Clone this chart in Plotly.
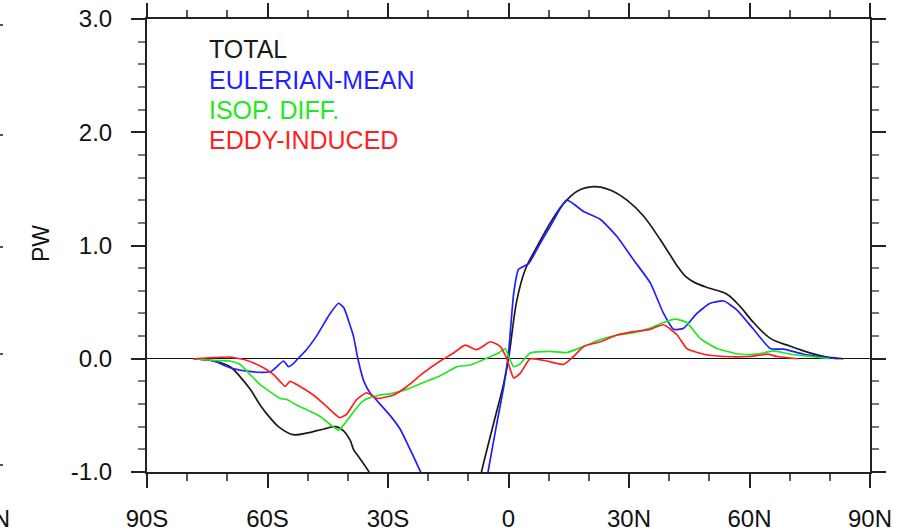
import plotly.graph_objects as go

# Northward heat transport components (PW) versus latitude (deg, negative = south)
total_lat = [-78.4, -73.4, -69.3, -66.8, -64.3, -61.8, -59.4, -56.9, -53.6, -50.0, -46.0, -43.0,
             -41.0, -39.4, -38.6, -37.0, -34.9, -30.0, -22.0, -15.0, -10.0, -8.0, -6.6, -3.7,
             -1.2, 0.0, 2.1, 4.2, 7.1, 10.4, 13.7, 17.1, 21.2, 25.3, 29.5, 33.6, 37.8, 40.0,
             42.0, 44.0, 46.5, 50.3, 54.4, 57.7, 61.0, 65.2, 70.2, 75.2, 79.4, 83.4]
total_pw = [0.0, -0.02, -0.07, -0.16, -0.27, -0.41, -0.52, -0.61, -0.67, -0.655, -0.62, -0.60,
            -0.64, -0.72, -0.80, -0.88, -0.99, -1.30, -1.75, -1.80, -1.50, -1.20, -0.98, -0.57,
            -0.22, 0.0, 0.52, 0.79, 0.99, 1.20, 1.37, 1.48, 1.52, 1.49, 1.40, 1.26, 1.05, 0.93,
            0.82, 0.73, 0.67, 0.62, 0.57, 0.46, 0.32, 0.18, 0.11, 0.05, 0.015, 0.0]

euler_lat = [-78.4, -73.4, -69.3, -65.1, -61.0, -59.0, -56.0, -54.8, -53.5, -51.9, -50.3, -47.8,
             -44.4, -42.3, -41.0, -39.5, -38.6, -37.5, -36.0, -34.5, -33.0, -29.5, -27.0, -25.3,
             -22.0, -18.0, -12.0, -7.0, -5.0, -2.9, -1.2, 0.0, 1.3, 2.5, 5.0, 7.9, 10.4, 14.5,
             18.7, 22.9, 27.0, 31.2, 35.3, 38.6, 41.1, 43.6, 46.9, 50.2, 53.6, 56.9, 61.0, 65.2,
             68.5, 73.5, 78.5, 82.0]
euler_pw = [0.0, -0.02, -0.08, -0.11, -0.12, -0.11, -0.02, -0.07, -0.04, 0.02, 0.08, 0.20,
            0.40, 0.49, 0.45, 0.30, 0.20, 0.0, -0.20, -0.30, -0.36, -0.50, -0.62, -0.74,
            -0.99, -1.30, -1.60, -1.40, -0.98, -0.57, -0.25, 0.05, 0.58, 0.79, 0.84, 1.02, 1.17, 1.40,
            1.30, 1.23, 1.08, 0.87, 0.67, 0.40, 0.26, 0.27, 0.40, 0.49, 0.51, 0.43, 0.26, 0.09,
            0.085, 0.04, 0.015, 0.0]

isop_lat = [-78.4, -73.4, -69.3, -66.8, -64.3, -61.8, -59.4, -56.9, -55.2, -52.7, -50.2, -46.9,
            -44.4, -42.3, -40.5, -38.6, -36.5, -35.0, -32.0, -29.5, -25.3, -21.2, -17.0, -12.8,
            -9.5, -5.4, -2.5, -0.8, 0.0, 1.3, 2.9, 5.4, 10.4, 14.5, 18.8, 22.9, 27.0, 31.2, 35.3,
            38.6, 41.5, 44.4, 47.7, 51.9, 57.7, 61.9, 66.0, 70.2, 75.2, 80.0]
isop_pw = [0.0, -0.015, -0.02, -0.05, -0.14, -0.23, -0.29, -0.35, -0.36, -0.41, -0.45, -0.51,
           -0.58, -0.63, -0.56, -0.47, -0.38, -0.35, -0.32, -0.31, -0.27, -0.21, -0.15, -0.07,
           -0.055, 0.005, 0.05, 0.09, 0.02, -0.07, -0.045, 0.05, 0.065, 0.055, 0.11, 0.17, 0.21,
           0.23, 0.27, 0.32, 0.35, 0.32, 0.18, 0.09, 0.04, 0.04, 0.07, 0.04, 0.02, 0.0]

eddy_lat = [-78.4, -73.4, -69.3, -65.1, -61.0, -58.5, -56.9, -55.6, -54.4, -51.9, -48.6, -45.3,
            -42.0, -40.3, -37.8, -35.3, -32.8, -28.6, -25.3, -21.2, -17.0, -13.7, -10.8, -7.9,
            -4.5, -2.1, -0.4, 1.3, 2.9, 5.4, 9.5, 13.7, 16.2, 18.8, 22.9, 27.0, 31.2, 35.3,
            38.6, 42.0, 44.4, 48.6, 53.6, 60.2, 64.4, 66.9, 72.0]
eddy_pw = [0.0, 0.01, 0.015, -0.015, -0.08, -0.14, -0.20, -0.245, -0.20, -0.245, -0.32, -0.42,
           -0.52, -0.49, -0.36, -0.30, -0.35, -0.32, -0.245, -0.125, -0.02, 0.05, 0.12, 0.08,
           0.15, 0.11, 0.0, -0.17, -0.13, 0.0, -0.02, -0.05, 0.02, 0.11, 0.15, 0.21, 0.24, 0.26,
           0.30, 0.21, 0.09, 0.04, 0.02, 0.02, 0.04, 0.02, 0.0]

lat_ticks = [-90, -60, -30, 0, 30, 60, 90]
lat_labels = ["90S", "60S", "30S", "0", "30N", "60N", "90N"]
pw_ticks = [-1.0, 0.0, 1.0, 2.0, 3.0]
pw_labels = ["-1.0", "0.0", "1.0", "2.0", "3.0"]

# name, lats, values, colour, spline smoothing
series = [
    ("TOTAL", total_lat, total_pw, "#1a1a1a", 1.0),
    ("EULERIAN-MEAN", euler_lat, euler_pw, "#1f1fff", 0.5),
    ("ISOP. DIFF.", isop_lat, isop_pw, "#1ee81e", 0.5),
    ("EDDY-INDUCED", eddy_lat, eddy_pw, "#ff1f1f", 0.5),
]

W, H = 903, 531
ML, MR, MT, MB = 147, 33, 19, 59
PW_, PH_ = W - ML - MR, H - MT - MB


def px_x(px):
    return (px - ML) / PW_


def px_y(py):
    return 1 - (py - MT) / PH_


fig = go.Figure()
for name, xs, ys, col, sm in series:
    fig.add_trace(go.Scatter(x=xs, y=ys, mode="lines", name=name,
                             line=dict(color=col, width=1.7, shape="spline", smoothing=sm),
                             showlegend=False, hoverinfo="skip"))

FONT = "Liberation Sans, Arial, Helvetica, sans-serif"
axis_common = dict(showline=True, linecolor="#222", linewidth=2, mirror="ticks",
                   ticks="outside", tickcolor="#222", tickwidth=2, ticklen=14,
                   showgrid=False, automargin=False,
                   tickfont=dict(family=FONT, size=24, color="#111"))

fig.update_xaxes(range=[-90, 90], tickvals=lat_ticks, ticktext=lat_labels,
                 zeroline=False, ticklabelstandoff=10,
                 minor=dict(dtick=10, tick0=-90, ticks="outside", ticklen=7,
                            tickcolor="#555", tickwidth=1.5),
                 **axis_common)
fig.update_yaxes(range=[-1.0, 3.0], tickvals=pw_ticks, ticktext=pw_labels,
                 zeroline=True, zerolinecolor="#111", zerolinewidth=1.2,
                 ticklabelstandoff=14,
                 minor=dict(dtick=0.2, tick0=-1.0, ticks="outside", ticklen=7,
                            tickcolor="#777", tickwidth=1.5),
                 **axis_common)

annotations = []
# legend text block
legend_y = [49, 79.5, 109.5, 139.5]
for (name, _, _, col, _), ly in zip(series, legend_y):
    annotations.append(dict(text=name, xref="paper", yref="paper", x=px_x(207), y=px_y(ly),
                            xanchor="left", yanchor="middle", showarrow=False,
                            font=dict(family=FONT, size=25, color=col)))
# y-axis title
annotations.append(dict(text="PW", xref="paper", yref="paper", x=px_x(41), y=px_y(244),
                        xanchor="center", yanchor="middle", textangle=-90, showarrow=False,
                        font=dict(family=FONT, size=23, color="#111")))
# edge of neighbouring panel's axis label
annotations.append(dict(text="90N", xref="paper", yref="paper", x=px_x(12), y=px_y(518),
                        xanchor="right", yanchor="middle", showarrow=False,
                        font=dict(family=FONT, size=24, color="#111")))

shapes = []
for ty in [25, 135, 247, 354, 465]:
    shapes.append(dict(type="line", xref="paper", yref="paper", x0=px_x(0), x1=px_x(3),
                       y0=px_y(ty), y1=px_y(ty), line=dict(color="#555", width=2)))

fig.update_layout(width=W, height=H,
                  margin=dict(l=ML, r=MR, t=MT, b=MB, pad=0, autoexpand=False),
                  plot_bgcolor="white", paper_bgcolor="white",
                  annotations=annotations, shapes=shapes)

fig.write_html("out.html")
